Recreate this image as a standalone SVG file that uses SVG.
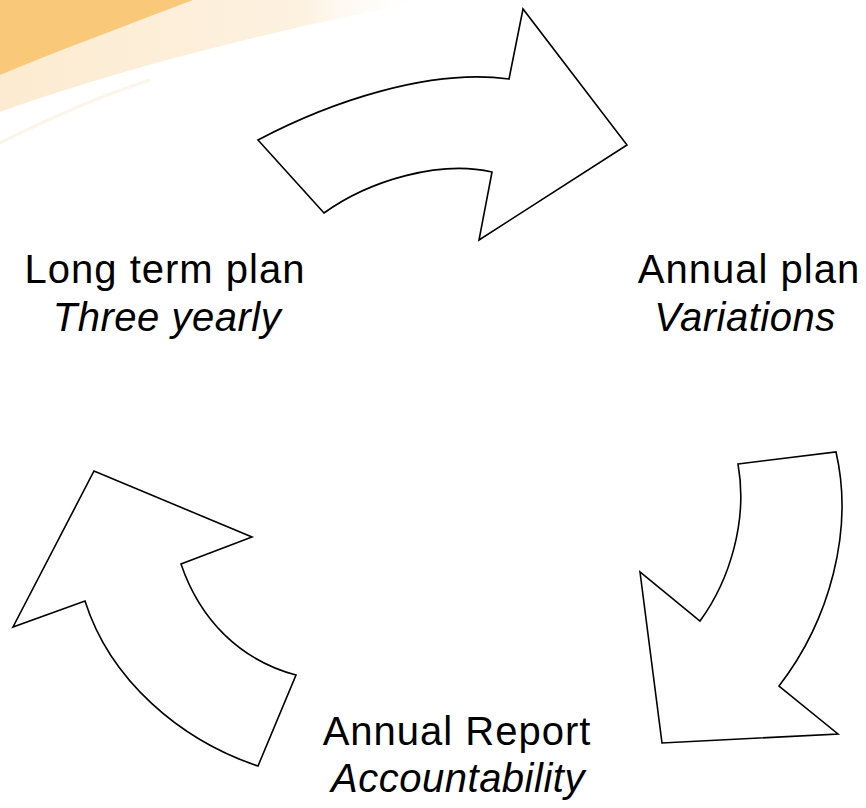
<svg xmlns="http://www.w3.org/2000/svg" width="866" height="808" viewBox="0 0 866 808">
  <style>
    .arrow { fill: #ffffff; stroke: #000000; stroke-width: 1.6; stroke-linejoin: miter; }
    .title { font-family: "Liberation Sans", Arial, sans-serif; font-size: 40px; letter-spacing: 1px; fill: #000000; text-anchor: middle; }
    .sub { font-style: italic; letter-spacing: 0.5px; }
  </style>
  <defs>
    <linearGradient id="lightBand" x1="0" y1="0" x2="1" y2="0">
      <stop offset="0" stop-color="#FCEBD0"/>
      <stop offset="0.7" stop-color="#FDF1E0"/>
      <stop offset="1" stop-color="#FFFFFF" stop-opacity="0"/>
    </linearGradient>
  </defs>
  <rect x="0" y="0" width="866" height="808" fill="#ffffff"/>
  <g id="background">
    <path d="M0,0 L430,0 C 270,30 110,72 0,112 Z" fill="url(#lightBand)"/>
    <path d="M0,0 L193,0 C 130,24 60,50 0,75 Z" fill="#F9C879"/>
    <path d="M0,143 C 50,118 100,96 150,80" fill="none" stroke="#FCF5EA" stroke-width="3"/>
  </g>
  <g id="connectors">
    <path id="arrow-top" class="arrow" d="M258,140 C 330,102 430,68 509,79 L523,9 L627,145 L479,240 L492,172 C 440,160 370,180 324,213 Z"/>
    <path id="arrow-right" class="arrow" d="M738,464 L836,452 C 854,530 830,620 779,686 L838,734 L662,743 L640,572 L700,621 C 730,580 748,520 738,464 Z"/>
    <path id="arrow-left" class="arrow" d="M258,766 C 180,740 110,680 85,601 L13,627 L94,471 L252,537 L181,564 C 200,620 240,660 296,675 Z"/>
  </g>
  <g id="node-long-term">
    <text class="title" x="165" y="283">Long term plan</text>
    <text class="title sub" x="167" y="331">Three yearly</text>
  </g>
  <g id="node-annual-plan">
    <text class="title" x="749" y="283">Annual plan</text>
    <text class="title sub" x="745" y="331">Variations</text>
  </g>
  <g id="node-annual-report">
    <text class="title" x="457" y="745">Annual Report</text>
    <text class="title sub" x="458" y="792">Accountability</text>
  </g>
</svg>
